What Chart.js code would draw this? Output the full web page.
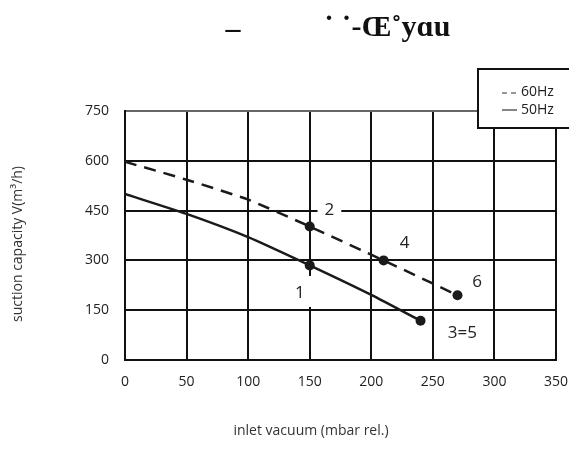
<!DOCTYPE html>
<html>
  <head>
    <script src="https://cdn.jsdelivr.net/npm/chart.js@4.4.0/dist/chart.umd.min.js"></script>
    <style>
      body { margin: 0; background: #fff; }
      .chart-container { width: 569px; height: 457px; }
    </style>
  </head>
  <body>
    <div class="chart-container">
      <canvas id="myChart"></canvas>
    </div>
    <script>
      // data
      var vacuum60 = [0, 50, 100, 150, 210, 270];
      var capacity60 = [597, 543, 483, 402, 300, 195];
      var marks60 = [0, 0, 0, 5, 5, 5];

      var vacuum50 = [0, 50, 100, 150, 200, 240];
      var capacity50 = [500, 440, 370, 285, 196, 118];
      var marks50 = [0, 0, 0, 5, 0, 5];

      // point numbers: text, x, y (data units), white box behind
      var pointLabels = ["1", "2", "4", "6", "3=5"];
      var pointLabelX = [142, 166, 227, 286, 274];
      var pointLabelY = [202, 452, 353, 235, 81];
      var pointLabelBox = [true, true, false, false, false];

      var xTicks = [0, 50, 100, 150, 200, 250, 300, 350];
      var yTicks = [0, 150, 300, 450, 600, 750];

      var titleParts = ["–", "˙ ˙-Œ˚yɑu"];
      var legendNames = ["60Hz", "50Hz"];
      var xTitle = "inlet vacuum (mbar rel.)";
      var yTitle = "suction capacity V(m³/h)";

      function toPoints(xs, ys) {
        var pts = [];
        for (var i = 0; i < xs.length; i++) pts.push({ x: xs[i], y: ys[i] });
        return pts;
      }

      var font = "'Open Sans', 'Noto Sans', sans-serif";

      var labelPlugin = {
        id: "labels",
        beforeDatasetsDraw: function (chart) {
          var ctx = chart.ctx;
          var xs = chart.scales.x, ys = chart.scales.y;
          ctx.save();
          ctx.font = "17px " + font;
          ctx.textAlign = "center";
          ctx.textBaseline = "middle";
          for (var i = 0; i < pointLabels.length; i++) {
            var px = xs.getPixelForValue(pointLabelX[i]);
            var py = ys.getPixelForValue(pointLabelY[i]);
            if (pointLabelBox[i]) {
              var w = ctx.measureText(pointLabels[i]).width;
              ctx.fillStyle = "#fff";
              ctx.fillRect(px - w / 2 - 7, py - 17, w + 14, 31);
            }
            ctx.fillStyle = "#222";
            ctx.fillText(pointLabels[i], px, py);
          }
          ctx.restore();
        },
        afterDraw: function (chart) {
          var ctx = chart.ctx;
          ctx.save();
          // title
          ctx.fillStyle = "#111";
          ctx.font = "bold 30px 'Liberation Serif', serif";
          ctx.textBaseline = "alphabetic";
          ctx.textAlign = "center";
          ctx.fillText(titleParts[0], 233, 38);
          ctx.textAlign = "left";
          ctx.fillText(titleParts[1], 324, 36);

          // axis titles
          ctx.font = "14px " + font;
          ctx.fillStyle = "#333";
          ctx.textAlign = "center";
          ctx.textBaseline = "middle";
          ctx.fillText(xTitle, 311, 431);
          ctx.save();
          ctx.translate(18, 244);
          ctx.rotate(-Math.PI / 2);
          ctx.fillText(yTitle, 0, 0);
          ctx.restore();

          // legend box
          ctx.fillStyle = "#fff";
          ctx.fillRect(478, 69, 100, 59);
          ctx.strokeStyle = "#111";
          ctx.lineWidth = 2;
          ctx.strokeRect(478, 69, 100, 59);
          ctx.strokeStyle = "#333";
          ctx.lineWidth = 1.2;
          ctx.setLineDash([5, 4]);
          ctx.beginPath();
          ctx.moveTo(502, 93);
          ctx.lineTo(518, 93);
          ctx.stroke();
          ctx.setLineDash([]);
          ctx.beginPath();
          ctx.moveTo(502, 110);
          ctx.lineTo(517, 110);
          ctx.stroke();
          ctx.fillStyle = "#222";
          ctx.textAlign = "left";
          ctx.font = "14px " + font;
          ctx.fillText(legendNames[0], 521, 92);
          ctx.fillText(legendNames[1], 521, 110);
          ctx.restore();
        },
      };

      var chart = new Chart(document.getElementById("myChart"), {
        type: "scatter",
        data: {
          datasets: [
            {
              label: legendNames[0],
              data: toPoints(vacuum60, capacity60),
              showLine: true,
              borderColor: "#1a1a1a",
              borderWidth: 2.5,
              borderDash: [12, 8],
              backgroundColor: "#1a1a1a",
              pointRadius: marks60,
              pointBorderWidth: 0,
              tension: 0.2,
            },
            {
              label: legendNames[1],
              data: toPoints(vacuum50, capacity50),
              showLine: true,
              borderColor: "#1a1a1a",
              borderWidth: 2.5,
              backgroundColor: "#1a1a1a",
              pointRadius: marks50,
              pointBorderWidth: 0,
              tension: 0.2,
            },
          ],
        },
        options: {
          responsive: true,
          maintainAspectRatio: false,
          animation: false,
          layout: { padding: { left: 0, right: 0, top: 111, bottom: 57 } },
          plugins: { legend: { display: false }, tooltip: { enabled: false } },
          scales: {
            x: {
              type: "linear",
              min: 0,
              max: 350,
              afterBuildTicks: function (s) {
                s.ticks = xTicks.map(function (v) { return { value: v }; });
              },
              afterFit: function (s) {
                s.height = 40;
                s.paddingRight = 13;
              },
              grid: {
                color: "#111",
                lineWidth: 2,
                drawTicks: false,
              },
              border: { color: "#111", width: 2 },
              ticks: {
                padding: 14,
                color: "#222",
                font: { family: font, size: 14 },
              },
            },
            y: {
              min: 0,
              max: 750,
              afterBuildTicks: function (s) {
                s.ticks = yTicks.map(function (v) { return { value: v }; });
              },
              afterFit: function (s) { s.width = 125; },
              grid: {
                color: function (c) {
                  return c.tick && c.tick.value === 750 ? "#666" : "#111";
                },
                lineWidth: 2,
                drawTicks: false,
              },
              border: { color: "#111", width: 2 },
              ticks: {
                padding: 16,
                color: "#222",
                font: { family: font, size: 14 },
              },
            },
          },
        },
        plugins: [labelPlugin],
      });
    </script>
  </body>
</html>
